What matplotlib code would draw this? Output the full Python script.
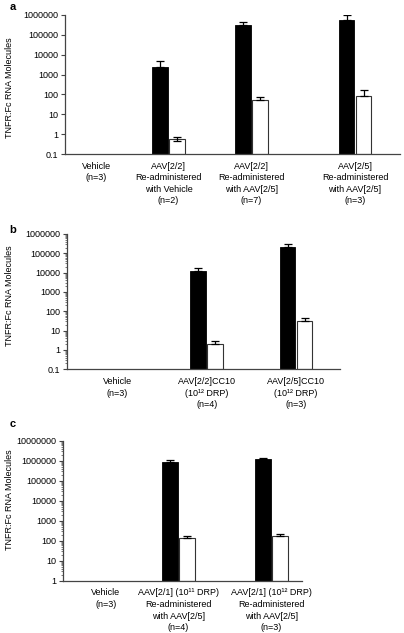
import numpy as np
import matplotlib
matplotlib.use("Agg")
import matplotlib.pyplot as plt
from matplotlib.ticker import FixedLocator, FuncFormatter, LogLocator, NullFormatter

# ---------------- data ----------------
cats_a = ["Vehicle\n(n=3)",
          "AAV[2/2]\nRe-administered\nwith Vehicle\n(n=2)",
          "AAV[2/2]\nRe-administered\nwith AAV[2/5]\n(n=7)",
          "AAV[2/5]\nRe-administered\nwith AAV[2/5]\n(n=3)"]
black_a = [0, 2300, 320000, 560000]
black_err_a = [0, 2700, 150000, 440000]
white_a = [0, 0.45, 52, 80]
white_err_a = [0, 0.25, 26, 86]

cats_b = ["Vehicle\n(n=3)",
          "AAV[2/2]CC10\n(10¹² DRP)\n(n=4)",
          "AAV[2/5]CC10\n(10¹² DRP)\n(n=3)"]
black_b = [0, 12000, 210000]
black_err_b = [0, 6000, 80000]
white_b = [0, 2.0, 31]
white_err_b = [0, 1.0, 12]

cats_c = ["Vehicle\n(n=3)",
          "AAV[2/1] (10¹¹ DRP)\nRe-administered\nwith AAV[2/5]\n(n=4)",
          "AAV[2/1] (10¹² DRP)\nRe-administered\nwith AAV[2/5]\n(n=3)"]
black_c = [0, 830000, 1170000]
black_err_c = [0, 220000, 150000]
white_c = [0, 132, 178]
white_err_c = [0, 34, 31]

ylabel = "TNFR:Fc RNA Molecules"

# ---------------- layout ----------------
W, H = 404, 633
plt.rcParams['font.family'] = ['Liberation Sans', 'DejaVu Sans']
fig = plt.figure(figsize=(W / 100, H / 100), dpi=100)

def px_axes(x0, x1, ytop, ybot):
    return fig.add_axes([x0 / W, 1 - ybot / H, (x1 - x0) / W, (ybot - ytop) / H])

panels = [
    dict(label="a", rect=(65, 400, 15, 154), cats=cats_a, black=black_a, berr=black_err_a,
         white=white_a, werr=white_err_a, pos=[0, 0.853, 1.827, 3.047], xlim=(-0.365, 3.576),
         ylim=(0.1, 1e6), minor=False, ppu=85, labxy=(13, 7), ylab=(10, 88)),
    dict(label="b", rect=(67, 340, 234, 369.3), cats=cats_b, black=black_b, berr=black_err_b,
         white=white_b, werr=white_err_b, pos=[0, 1, 2], xlim=(-0.56, 2.49),
         ylim=(0.1, 1e6), minor=True, ppu=89.5, labxy=(13, 230), ylab=(10, 296)),
    dict(label="c", rect=(63, 302, 440.7, 580.7), cats=cats_c, black=black_c, berr=black_err_c,
         white=white_c, werr=white_err_c, pos=[0, 0.853, 1.947], xlim=(-0.506, 2.306),
         ylim=(1, 1e7), minor=True, ppu=85, labxy=(13, 424), ylab=(10, 500)),
]

def fmt(v, _):
    return f"{v:.0f}" if v >= 1 else f"{v:g}"

spine_col = "#444444"
fs = 6.5

for p in panels:
    ax = px_axes(*p["rect"])
    ax.set_yscale("log")
    ax.set_ylim(*p["ylim"])
    ax.set_xlim(*p["xlim"])
    ppu = p["ppu"]
    bw = 15.5 / ppu
    off = 8.5 / ppu
    pos = np.array(p["pos"], dtype=float)
    for i, x in enumerate(pos):
        if p["black"][i] > 0:
            ax.bar(x - off, p["black"][i], width=bw, bottom=p["ylim"][0], color="black",
                   edgecolor="black", linewidth=0.6, zorder=2)
            ax.errorbar(x - off, p["black"][i], yerr=[[0], [p["berr"][i]]], fmt="none",
                        ecolor="black", elinewidth=0.9, capsize=3, capthick=0.9, zorder=3)
        if p["white"][i] > 0:
            ax.bar(x + off, p["white"][i], width=bw, bottom=p["ylim"][0], color="white",
                   edgecolor="#333333", linewidth=0.8, zorder=2)
            ax.errorbar(x + off, p["white"][i], yerr=[[0], [p["werr"][i]]], fmt="none",
                        ecolor="black", elinewidth=0.9, capsize=3, capthick=0.9, zorder=3)
    for s in ["top", "right"]:
        ax.spines[s].set_visible(False)
    for s in ["left", "bottom"]:
        ax.spines[s].set_color(spine_col)
        ax.spines[s].set_linewidth(0.9)
    lo, hi = np.log10(p["ylim"])
    ax.yaxis.set_major_locator(FixedLocator(10.0 ** np.arange(lo, hi + 1)))
    ax.yaxis.set_major_formatter(FuncFormatter(fmt))
    if p["minor"]:
        ax.yaxis.set_minor_locator(LogLocator(base=10, subs=np.arange(2, 10), numticks=20))
        ax.tick_params(axis="y", which="minor", length=1.5, width=0.5, color=spine_col)
    else:
        ax.yaxis.set_minor_locator(FixedLocator([]))
    ax.yaxis.set_minor_formatter(NullFormatter())
    ax.tick_params(axis="y", which="major", length=3, width=0.8, color=spine_col,
                   labelsize=fs, pad=2)
    ax.set_xticks(pos)
    ax.set_xticklabels(p["cats"], fontsize=fs, linespacing=1.37)
    ax.tick_params(axis="x", length=0, pad=5.5)
    fig.text(p["ylab"][0] / W, 1 - p["ylab"][1] / H, ylabel,
             rotation=90, ha="center", va="center", fontsize=fs)
    fig.text(p["labxy"][0] / W, 1 - p["labxy"][1] / H, p["label"], fontsize=8,
             fontweight="bold", ha="center", va="center")

fig.savefig("out.png", dpi=100, facecolor="white")
